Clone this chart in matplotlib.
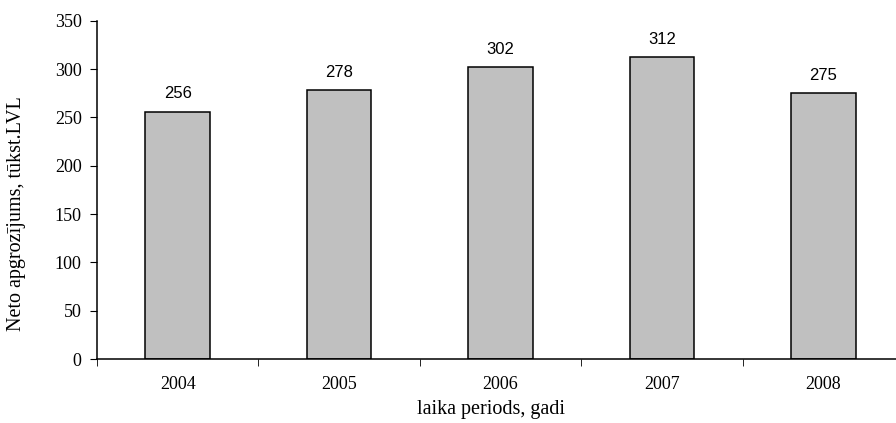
import matplotlib.pyplot as plt
import numpy as np

years = ['2004', '2005', '2006', '2007', '2008']
values = [256, 278, 302, 312, 275]
yTicks = [0, 50, 100, 150, 200, 250, 300, 350]

serif = 'Liberation Serif'
sans = 'Liberation Sans'

fig = plt.figure(figsize=(8.96, 4.23), dpi=100)
ax = fig.add_axes([97 / 896, 64 / 423, 807 / 896, 338.3 / 423])

x = np.arange(len(years))
ax.bar(x, values, width=0.4, color='#c0c0c0', edgecolor='black', linewidth=1.1)

for xi, v in zip(x, values):
  ax.annotate(str(v), (xi, v), xytext=(0, 9.5), textcoords='offset points',
              ha='center', va='baseline', fontsize=12, family=sans)

ax.set_xlim(-0.5, len(years) - 0.5)
ax.set_ylim(0, 350)
ax.set_yticks(yTicks)
ax.set_yticklabels([str(t) for t in yTicks], family=serif, fontsize=13)

ax.set_xticks(x)
ax.set_xticklabels(years, family=serif, fontsize=13)
ax.tick_params(axis='x', which='major', length=0, pad=12)
ax.set_xticks(np.arange(len(years) + 1) - 0.5, minor=True)
ax.tick_params(axis='x', which='minor', length=5, direction='out')
ax.tick_params(axis='y', length=5, direction='out', pad=6)

for s in ['top', 'right']:
  ax.spines[s].set_visible(False)
ax.spines['left'].set_linewidth(1.1)
ax.spines['bottom'].set_linewidth(1.1)

ax.set_xlabel('laika periods, gadi', family=serif, fontsize=14.5)
ax.xaxis.set_label_coords((491 - 97) / 807, -0.12)
ax.set_ylabel('Neto apgrozījums, tūkst.LVL', family=serif, fontsize=14.5)
ax.yaxis.set_label_coords(-0.088, 0.43)

plt.savefig('out.png', dpi=100)
